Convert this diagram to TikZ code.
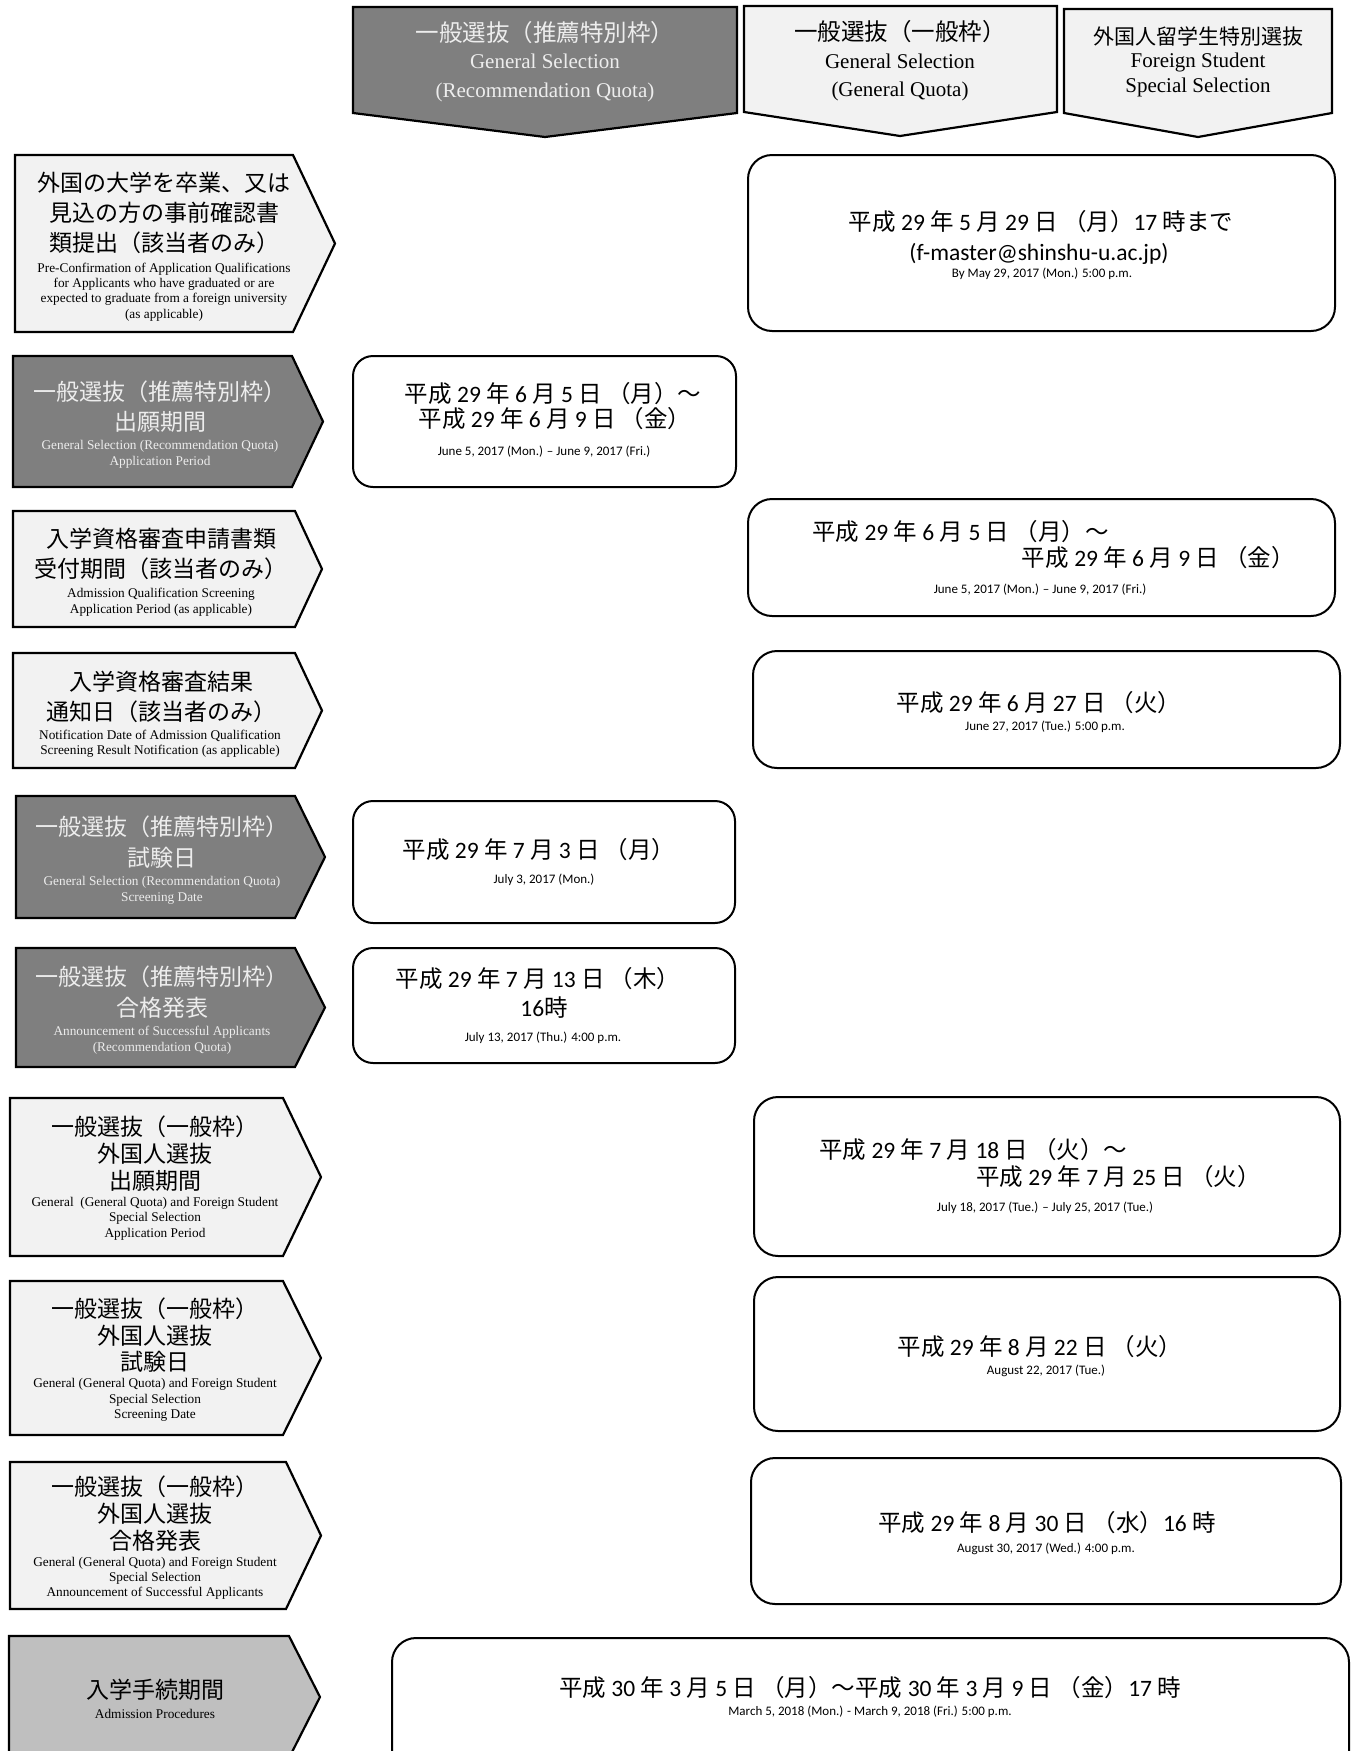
\documentclass[tikz,border=0pt]{standalone}
\usepackage{fontspec}
\setmainfont{Liberation Serif}
\newfontfamily\jpf{Noto Sans CJK JP}
\newfontfamily\calf{Carlito}
\newcommand\J[1]{{\jpf #1}}
\definecolor{lightfill}{HTML}{F2F2F2}
\definecolor{darkfill}{HTML}{7F7F7F}
\definecolor{midfill}{HTML}{BFBFBF}
\definecolor{lighttext}{HTML}{EDEDED}
\tikzset{
  pent/.style={draw=black, line width=2.2pt, line join=miter},
  plite/.style={pent, fill=lightfill},
  pdark/.style={pent, fill=darkfill},
  pmid/.style={pent, fill=midfill},
  rbox/.style={draw=black, line width=2pt, rounded corners=24pt, fill=white},
  rboxs/.style={rbox, rounded corners=20pt},
  jh/.style={font=\jpf\fontsize{23.5}{27}\selectfont, inner sep=0pt, text height=17.5pt, text depth=0pt},
  jh3/.style={jh, font=\jpf\fontsize{21}{25}\selectfont, text height=16pt},
  eh/.style={font=\fontsize{21}{25}\selectfont, inner sep=0pt, text height=14pt, text depth=0pt},
  jl/.style={font=\jpf\fontsize{23}{27}\selectfont, inner sep=0pt, text height=17.5pt, text depth=0pt},
  el/.style={font=\fontsize{13.3}{15}\selectfont, inner sep=0pt, text height=9.3pt, text depth=0pt},
  jr/.style={font=\calf\fontsize{23.5}{28}\selectfont, inner sep=0pt, text height=17pt, text depth=0pt},
  er/.style={font=\calf\fontsize{13}{15}\selectfont, inner sep=0pt, text height=9pt, text depth=0pt},
  ondark/.style={text=lighttext},
}
\begin{document}
\begin{tikzpicture}[x=1pt,y=-1pt]
\useasboundingbox (0,0) rectangle (1352,1751);
\clip (0,0) rectangle (1352,1751);
\fill[white] (0,0) rectangle (1352,1751);

% ---------- header pentagons ----------
\draw[pdark] (353,7) -- (737,7) -- (737,113) -- (545,137) -- (353,113) -- cycle;
\draw[plite] (744,6) -- (1057,6) -- (1057,112) -- (900,136) -- (744,112) -- cycle;
\draw[plite] (1064,9) -- (1332,9) -- (1332,113) -- (1198,137) -- (1064,113) -- cycle;

\node[jh,ondark] (h1a) at (545,33) {一般選抜（推薦特別枠）};
\node[eh,ondark] (h1b) at (545,61) {General Selection};
\node[eh,ondark] (h1c) at (545,90) {(Recommendation Quota)};
\node[jh] (h2a) at (900,32) {一般選抜（一般枠）};
\node[eh] (h2b) at (900,61) {General Selection};
\node[eh] (h2c) at (900,89) {(General Quota)};
\node[jh3] (h3a) at (1198,36) {外国人留学生特別選抜};
\node[eh] (h3b) at (1198,60) {Foreign Student};
\node[eh] (h3c) at (1198,85) {Special Selection};

% ---------- left pentagons ----------
\draw[plite] (15,155) -- (293,155) -- (335,243.5) -- (293,332) -- (15,332) -- cycle;
\draw[pdark] (13,356) -- (292,356) -- (323,421.5) -- (292,487) -- (13,487) -- cycle;
\draw[plite] (13,511) -- (295,511) -- (322,569) -- (295,627) -- (13,627) -- cycle;
\draw[plite] (13,653) -- (295,653) -- (322,710.5) -- (295,768) -- (13,768) -- cycle;
\draw[pdark] (16,796) -- (295,796) -- (325,857) -- (295,918) -- (16,918) -- cycle;
\draw[pdark] (16,948) -- (295,948) -- (325,1007.5) -- (295,1067) -- (16,1067) -- cycle;
\draw[plite] (10,1098) -- (283,1098) -- (321,1177) -- (283,1256) -- (10,1256) -- cycle;
\draw[plite] (10,1281) -- (283,1281) -- (321,1358) -- (283,1435) -- (10,1435) -- cycle;
\draw[plite] (10,1462) -- (286,1462) -- (321,1535.5) -- (286,1609) -- (10,1609) -- cycle;
\draw[pmid] (9,1636) -- (289,1636) -- (320,1697) -- (289,1758) -- (9,1758) -- cycle;

% row 1
\node[jl] (l1a) at (164,183) {外国の大学を卒業、又は};
\node[jl] (l1b) at (164,213) {見込の方の事前確認書};
\node[jl] (l1c) at (164,243) {類提出（該当者のみ）};
\node[el] (l1d) at (164,268) {Pre-Confirmation of Application Qualifications};
\node[el] (l1e) at (164,283) {for Applicants who have graduated or are};
\node[el] (l1f) at (164,298) {expected to graduate from a foreign university};
\node[el] (l1g) at (164,314) {(as applicable)};
% row 2
\node[jl,ondark] (l2a) at (160,392) {一般選抜（推薦特別枠）};
\node[jl,ondark] (l2b) at (160,422) {出願期間};
\node[el,ondark] (l2c) at (160,445) {General Selection (Recommendation Quota)};
\node[el,ondark] (l2d) at (160,461) {Application Period};
% row 3
\node[jl] (l3a) at (161,539) {入学資格審査申請書類};
\node[jl] (l3b) at (161,569) {受付期間（該当者のみ）};
\node[el] (l3c) at (161,593) {Admission Qualification Screening};
\node[el] (l3d) at (161,609) {Application Period (as applicable)};
% row 4
\node[jl] (l4a) at (161,682) {入学資格審査結果};
\node[jl] (l4b) at (161,712) {通知日（該当者のみ）};
\node[el] (l4c) at (160,735) {Notification Date of Admission Qualification};
\node[el] (l4d) at (160,750) {Screening Result Notification (as applicable)};
% row 5
\node[jl,ondark] (l5a) at (162,827) {一般選抜（推薦特別枠）};
\node[jl,ondark] (l5b) at (162,858) {試験日};
\node[el,ondark] (l5c) at (162,881) {General Selection (Recommendation Quota)};
\node[el,ondark] (l5d) at (162,897) {Screening Date};
% row 6
\node[jl,ondark] (l6a) at (162,977) {一般選抜（推薦特別枠）};
\node[jl,ondark] (l6b) at (162,1008) {合格発表};
\node[el,ondark] (l6c) at (162,1031) {Announcement of Successful Applicants};
\node[el,ondark] (l6d) at (162,1047) {(Recommendation Quota)};
% row 7
\node[jl] (l7a) at (155,1127) {一般選抜（一般枠）};
\node[jl] (l7b) at (155,1154) {外国人選抜};
\node[jl] (l7c) at (155,1181) {出願期間};
\node[el] (l7d) at (155,1202) {General\ \ (General Quota) and Foreign Student};
\node[el] (l7e) at (155,1217) {Special Selection};
\node[el] (l7f) at (155,1233) {Application Period};
% row 8
\node[jl] (l8a) at (155,1309) {一般選抜（一般枠）};
\node[jl] (l8b) at (155,1336) {外国人選抜};
\node[jl] (l8c) at (155,1362) {試験日};
\node[el] (l8d) at (155,1383) {General (General Quota) and Foreign Student};
\node[el] (l8e) at (155,1399) {Special Selection};
\node[el] (l8f) at (155,1414) {Screening Date};
% row 9
\node[jl] (l9a) at (155,1487) {一般選抜（一般枠）};
\node[jl] (l9b) at (155,1514) {外国人選抜};
\node[jl] (l9c) at (155,1541) {合格発表};
\node[el] (l9d) at (155,1562) {General (General Quota) and Foreign Student};
\node[el] (l9e) at (155,1577) {Special Selection};
\node[el] (l9f) at (155,1592) {Announcement of Successful Applicants};
% row 10
\node[jl] (l10a) at (155,1690) {入学手続期間};
\node[el] (l10b) at (155,1714) {Admission Procedures};

% ---------- right rounded boxes ----------
\draw[rbox] (748,155) rectangle (1335,331);
\draw[rboxs] (353,356) rectangle (736,487);
\draw[rbox] (748,499) rectangle (1335,616);
\draw[rbox] (753,651) rectangle (1340,768);
\draw[rboxs] (353,801) rectangle (735,923);
\draw[rboxs] (353,948) rectangle (735,1063);
\draw[rbox] (754,1097) rectangle (1340,1256);
\draw[rbox] (754,1277) rectangle (1340,1431);
\draw[rbox] (751,1458) rectangle (1341,1604);
\draw[rbox] (392,1638) rectangle (1349,1780);

% B1
\node[jr] (b1a) at (1041,222) {\J{平成} 29 \J{年} 5 \J{月} 29 \J{日} \J{（月）}17 \J{時まで}};
\node[jr] (b1b) at (1039,252) {(f-master@shinshu-u.ac.jp)};
\node[er] (b1c) at (1042,273) {By May 29, 2017 (Mon.) 5:00 p.m.};
% B2
\node[jr] (b2a) at (553,394) {\J{平成} 29 \J{年} 6 \J{月} 5 \J{日} \J{（月）～}};
\node[jr] (b2b) at (555,419) {\J{平成} 29 \J{年} 6 \J{月} 9 \J{日} \J{（金）}};
\node[er] (b2c) at (544,451) {June 5, 2017 (Mon.) – June 9, 2017 (Fri.)};
% B3
\node[jr,anchor=west] (b3a) at (812,532) {\J{平成} 29 \J{年} 6 \J{月} 5 \J{日} \J{（月）～}};
\node[jr,anchor=east] (b3b) at (1295,558) {\J{平成} 29 \J{年} 6 \J{月} 9 \J{日} \J{（金）}};
\node[er] (b3c) at (1040,589) {June 5, 2017 (Mon.) – June 9, 2017 (Fri.)};
% B4
\node[jr] (b4a) at (1039,703) {\J{平成} 29 \J{年} 6 \J{月} 27 \J{日} \J{（火）}};
\node[er] (b4b) at (1045,726) {June 27, 2017 (Tue.) 5:00 p.m.};
% B5
\node[jr] (b5a) at (539,850) {\J{平成} 29 \J{年} 7 \J{月} 3 \J{日} \J{（月）}};
\node[er] (b5b) at (544,879) {July 3, 2017 (Mon.)};
% B6
\node[jr] (b6a) at (538,979) {\J{平成} 29 \J{年} 7 \J{月} 13 \J{日} \J{（木）}};
\node[jr] (b6b) at (544,1008) {16\J{時}};
\node[er] (b6c) at (543,1037) {July 13, 2017 (Thu.) 4:00 p.m.};
% B7
\node[jr,anchor=west] (b7a) at (819,1150) {\J{平成} 29 \J{年} 7 \J{月} 18 \J{日} \J{（火）～}};
\node[jr,anchor=east] (b7b) at (1261,1177) {\J{平成} 29 \J{年} 7 \J{月} 25 \J{日} \J{（火）}};
\node[er] (b7c) at (1045,1207) {July 18, 2017 (Tue.) – July 25, 2017 (Tue.)};
% B8
\node[jr] (b8a) at (1040,1347) {\J{平成} 29 \J{年} 8 \J{月} 22 \J{日} \J{（火）}};
\node[er] (b8b) at (1046,1370) {August 22, 2017 (Tue.)};
% B9
\node[jr] (b9a) at (1047,1523) {\J{平成} 29 \J{年} 8 \J{月} 30 \J{日} \J{（水）}16 \J{時}};
\node[er] (b9b) at (1046,1548) {August 30, 2017 (Wed.) 4:00 p.m.};
% B10
\node[jr] (b10a) at (870,1688) {\J{平成} 30 \J{年} 3 \J{月} 5 \J{日} \J{（月）～平成} 30 \J{年} 3 \J{月} 9 \J{日} \J{（金）}17 \J{時}};
\node[er] (b10b) at (870,1711) {March 5, 2018 (Mon.) - March 9, 2018 (Fri.) 5:00 p.m.};
\end{tikzpicture}
\end{document}
